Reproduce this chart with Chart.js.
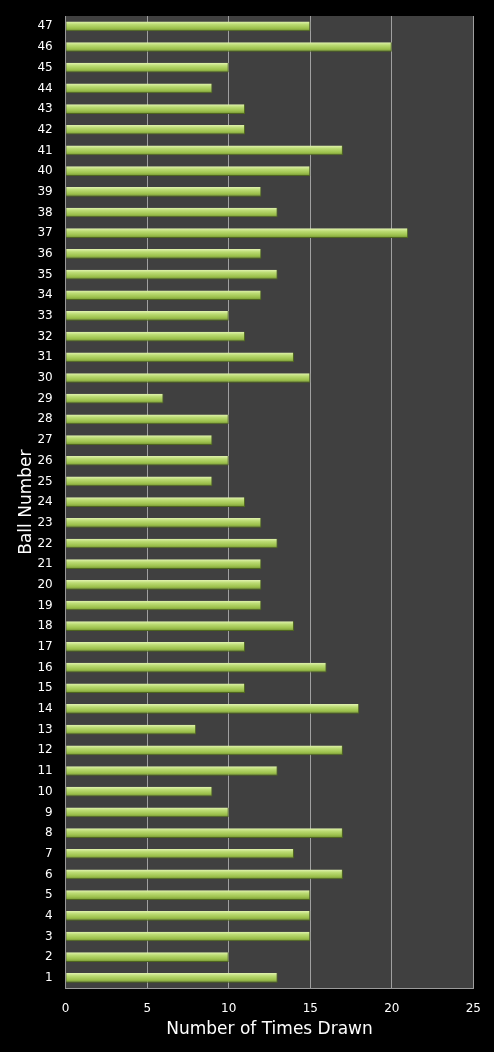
<!DOCTYPE html>
<html>
<head>
<meta charset="utf-8">
<script src="https://cdn.jsdelivr.net/npm/chart.js@4"></script>
<style>
    html, body { margin: 0; padding: 0; background: #000; }
    #wrap { width: 494px; height: 1052px; }
</style>
</head>
<body>
<div id="wrap"><canvas id="ballChart"></canvas></div>
<script>
// Data
const ballNumbers = [];
for (let n = 47; n >= 1; n--) ballNumbers.push(String(n));

// times drawn, ball 47 down to ball 1
const timesDrawn = [
    15, 20, 10, 9, 11, 11, 17, 15, 12, 13,
    21, 12, 13, 12, 10, 11, 14, 15, 6, 10,
    9, 10, 9, 11, 12, 13, 12, 12, 12, 14,
    11, 16, 11, 18, 8, 17, 13, 9, 10, 17,
    14, 17, 15, 15, 15, 10, 13
];

const xTicks = [0, 5, 10, 15, 20, 25];

// Plot background
const plotBg = {
    id: 'plotBg',
    beforeDraw(chart) {
        const { ctx, chartArea: a } = chart;
        ctx.save();
        ctx.fillStyle = '#404040';
        ctx.fillRect(a.left, a.top, a.right - a.left, a.bottom - a.top);
        ctx.restore();
    }
};

// Green gradient per bar
function barFill(context) {
    const chart = context.chart;
    const yScale = chart.scales.y;
    if (!yScale || context.dataIndex === undefined) return '#a6c85a';
    const mid = yScale.getPixelForValue(context.dataIndex);
    if (!isFinite(mid)) return '#a6c85a';
    const g = chart.ctx.createLinearGradient(0, mid - 5, 0, mid + 5);
    g.addColorStop(0, '#e4f4b4');
    g.addColorStop(0.3, '#bcdc74');
    g.addColorStop(0.7, '#9cc04c');
    g.addColorStop(1, '#6e8c30');
    return g;
}

const fontFamily = '"DejaVu Sans", Verdana, sans-serif';

new Chart(document.getElementById('ballChart'), {
    type: 'bar',
    data: {
        labels: ballNumbers,
        datasets: [{
            data: timesDrawn,
            backgroundColor: barFill,
            borderColor: '#4f6620',
            borderWidth: { top: 0, left: 0, right: 1, bottom: 1 },
            borderSkipped: 'left',
            barPercentage: 0.52,
            categoryPercentage: 0.9
        }]
    },
    options: {
        indexAxis: 'y',
        responsive: true,
        maintainAspectRatio: false,
        animation: false,
        layout: { padding: { top: 16, right: 20, left: 16, bottom: 12 } },
        plugins: {
            legend: { display: false },
            tooltip: { enabled: false }
        },
        scales: {
            x: {
                min: 0,
                max: 25,
                afterBuildTicks(axis) {
                    axis.ticks = xTicks.map(v => ({ value: v }));
                },
                grid: { color: '#a0a0a0', lineWidth: 1, drawTicks: false },
                border: { color: '#9a9a9a' },
                ticks: {
                    color: '#ffffff',
                    padding: 13,
                    font: { family: fontFamily, size: 12 }
                },
                title: {
                    display: true,
                    text: 'Number of Times Drawn',
                    color: '#ffffff',
                    padding: { top: -9, bottom: 0 },
                    font: { family: fontFamily, size: 17 }
                }
            },
            y: {
                afterFit(axis) {
                    axis.paddingTop = 0;
                },
                grid: { display: false, drawTicks: false },
                border: { color: '#9a9a9a' },
                ticks: {
                    color: '#ffffff',
                    padding: 13,
                    autoSkip: false,
                    font: { family: fontFamily, size: 12 }
                },
                title: {
                    display: true,
                    text: 'Ball Number',
                    color: '#ffffff',
                    padding: { top: 0, bottom: -12 },
                    font: { family: fontFamily, size: 17 }
                }
            }
        }
    },
    plugins: [plotBg]
});
</script>
</body>
</html>
